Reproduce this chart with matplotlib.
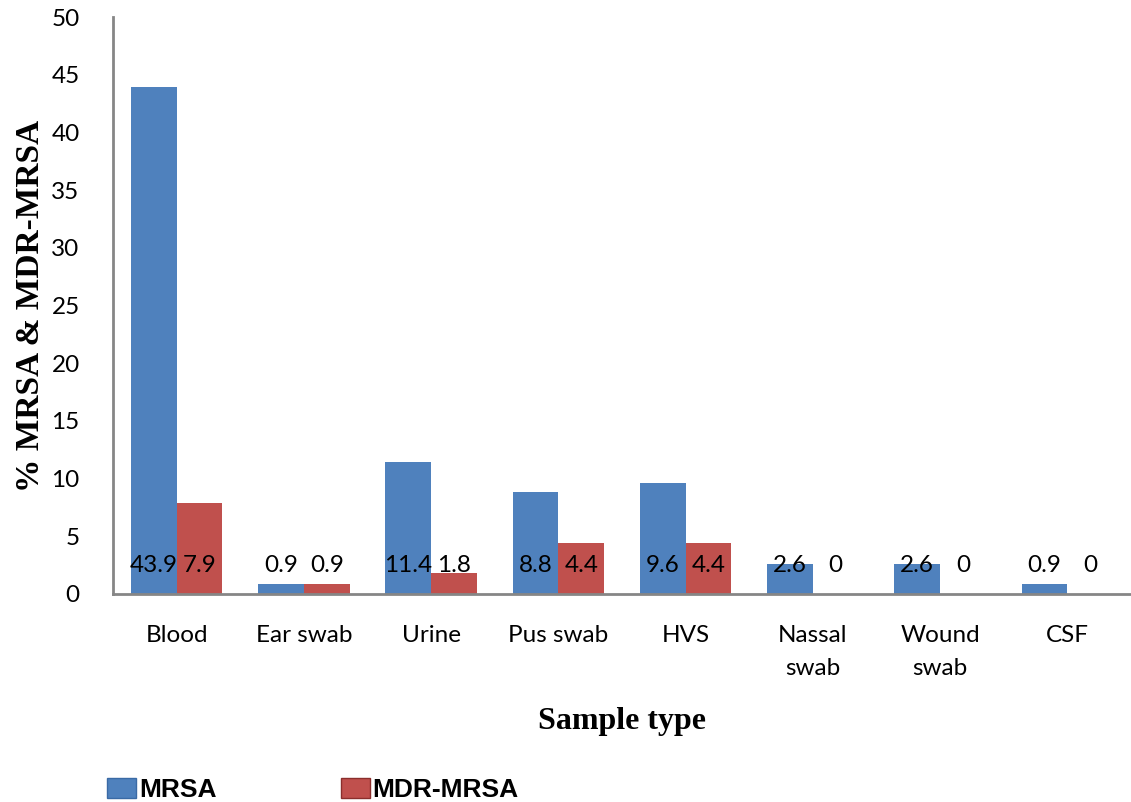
import matplotlib.pyplot as plt
from matplotlib.patches import Patch

# Data
categories = ["Blood", "Ear swab", "Urine", "Pus swab", "HVS",
              "Nassal\nswab", "Wound\nswab", "CSF"]
mrsa = [43.9, 0.9, 11.4, 8.8, 9.6, 2.6, 2.6, 0.9]
mdr_mrsa = [7.9, 0.9, 1.8, 4.4, 4.4, 0, 0, 0]

blue = '#4F81BD'
red = '#C0504D'
axis_gray = '#868686'

fig = plt.figure(figsize=(11.31, 8.02), dpi=100)
ax = fig.add_axes([113 / 1131, 208 / 802, 1 - 113 / 1131, 577 / 802])

width = 0.36
x = range(len(categories))
ax.bar([p - width / 2 for p in x], mrsa, width, color=blue, linewidth=0)
ax.bar([p + width / 2 for p in x], mdr_mrsa, width, color=red, linewidth=0)

# value labels sit at the bar base (Excel "inside base")
for i in x:
    ax.text(i - width / 2, 2.5, f"{mrsa[i]:g}", ha='center', va='center',
            fontsize=17.5, family='Lato')
    ax.text(i + width / 2, 2.5, f"{mdr_mrsa[i]:g}", ha='center', va='center',
            fontsize=17.5, family='Lato')

ax.set_xlim(-0.5, len(categories) - 0.5)
ax.set_ylim(0, 50)
ax.set_yticks(range(0, 51, 5))
ax.set_xticks(list(x))
ax.set_xticklabels(categories, family='Lato', fontsize=17.5, linespacing=1.75)
for lbl in ax.get_yticklabels():
    lbl.set_family('Lato')
    lbl.set_fontsize(17.5)
ax.tick_params(axis='both', length=0)
ax.tick_params(axis='y', pad=24)
ax.tick_params(axis='x', pad=22)

for side in ['top', 'right']:
    ax.spines[side].set_visible(False)
for side in ['left', 'bottom']:
    ax.spines[side].set_color(axis_gray)
    ax.spines[side].set_linewidth(2)

ax.set_xlabel('Sample type', family='Liberation Serif', fontweight='bold',
              fontsize=23, labelpad=20)
ax.set_ylabel('% MRSA & MDR-MRSA', family='Liberation Serif', fontweight='bold',
              fontsize=24, labelpad=4)

handles = [Patch(facecolor=blue, edgecolor='#3A6AA5'),
           Patch(facecolor=red, edgecolor='#8B2E2C')]
fig.legend(handles, ['MRSA', 'MDR-MRSA'], loc='lower left',
           bbox_to_anchor=(0.074, -0.03), ncol=2, frameon=False,
           prop={'family': 'Liberation Sans', 'weight': 'bold', 'size': 19},
           handlelength=1.1, handleheight=0.8, handletextpad=0.1,
           columnspacing=4.7)

plt.savefig('out.png', dpi=100)
